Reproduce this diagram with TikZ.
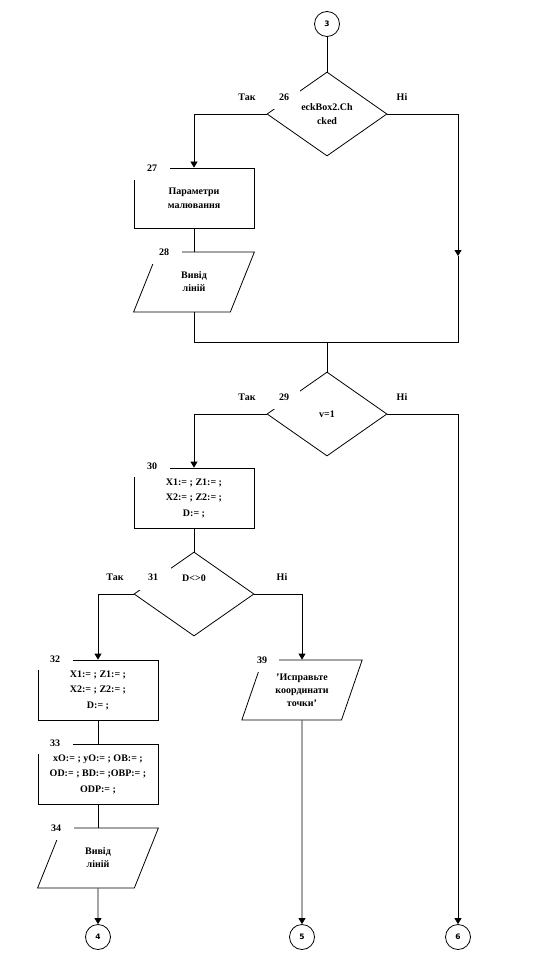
\documentclass[tikz,border=0pt]{standalone}
\usepackage{fontspec}
\setmainfont{Liberation Serif}
\newfontfamily\circfont{DejaVu Sans}
\usetikzlibrary{arrows.meta,positioning,shapes.geometric}

\begin{document}
\begin{tikzpicture}[
    x=1pt,y=-1pt,
    txt/.style={font=\bfseries\fontsize{10}{14}\selectfont,align=center},
    block/.style={txt,draw,minimum width=120,minimum height=60,inner sep=1pt},
    io/.style={txt,draw,trapezium,trapezium left angle=67,trapezium right angle=113,trapezium stretches=true,minimum width=121,minimum height=60,inner sep=0pt,font=\bfseries\fontsize{10}{13}\selectfont},
    cond/.style={txt,draw,diamond,minimum width=120,minimum height=84,inner sep=0pt},
    conn/.style={draw,circle,minimum size=25,inner sep=0pt,font=\circfont\bfseries\fontsize{7.5}{9}\selectfont},
    num/.style={txt,fill=white,minimum width=36,minimum height=24,inner sep=0pt},
    line width=0.8pt,
    >={Triangle[width=7pt,length=6pt]}
]
\useasboundingbox (0,0) rectangle (534,960);

% blocks
\node[conn] (c3) at (327,24) {3};
\node[cond] (d26) at (327,114) {eckBox2.Ch\\cked};
\node[block] (b27) at (194,198) {Параметри\\малювання};
\node[io] (p28) at (194,282) {Вивід\\ліній};
\node[cond] (d29) at (327,414) {v=1};
\node[block,font=\bfseries\fontsize{10}{15.5}\selectfont] (b30) at (194,498) {X1:= ; Z1:= ;\\X2:= ; Z2:= ;\\D:= ;};
\node[cond,label={[txt,yshift=16pt]center:D<>0}] (d31) at (194,594) {};
\node[block,font=\bfseries\fontsize{10}{15.5}\selectfont] (b32) at (98,690) {X1:= ; Z1:= ;\\X2:= ; Z2:= ;\\D:= ;};
\node[io] (p39) at (302,690) {'Исправьте\\координати\\точки'};
\node[block,font=\bfseries\fontsize{10}{15.5}\selectfont] (b33) at (98,774) {xO:= ; yO:= ; OB:= ;\\OD:= ; BD:= ;OBP:= ;\\ODP:= ;};
\node[io] (p34) at (98,858) {Вивід\\ліній};
\node[conn] (c4) at (98,937) {4};
\node[conn] (c5) at (302,937) {5};
\node[conn] (c6) at (458,937) {6};

% numbers
\node[num,minimum width=32] (n26) at (284,97) {26};
\node[num] (n27) at (152,168) {27};
\node[num] (n28) at (164,252) {28};
\node[num,minimum width=32] (n29) at (284,397) {29};
\node[num,minimum height=22] (n30) at (152,466) {30};
\node[num,minimum height=26] (n31) at (153,577) {31};
\node[num,minimum height=22] (n32) at (55,659) {32};
\node[num,minimum height=22] (n33) at (55,743) {33};
\node[num] (n34) at (56,828) {34};
\node[num,minimum width=34] (n39) at (262,660) {39};

% yes / no
\node[txt] (y26) at (247,97) {Так};
\node[txt] (f26) at (402,97) {Ні};
\node[txt] (y29) at (247,397) {Так};
\node[txt] (f29) at (402,397) {Ні};
\node[txt] (y31) at (115,577) {Так};
\node[txt] (f31) at (282,577) {Ні};

\coordinate (r1) at (458,256);
\coordinate (m1) at (327,342);

% connectors
\draw (c3) -- (d26);
\draw[->] (d26.west) -| (b27.north);
\draw (b27) -- (p28);
\draw[->] (d26.east) -| (r1);
\draw (r1) |- (m1);
\draw (p28.south) |- (m1);
\draw (m1) -- (d29.north);
\draw[->] (d29.west) -| (b30.north);
\draw[->] (d29.east) -| (c6.north);
\draw (b30) -- (d31);
\draw[->] (d31.west) -| (b32.north);
\draw[->] (d31.east) -| (p39.north);
\draw (b32) -- (b33);
\draw (b33) -- (p34);
\draw[->] (p34) -- (c4);
\draw[->] (p39) -- (c5);
\end{tikzpicture}
\end{document}
